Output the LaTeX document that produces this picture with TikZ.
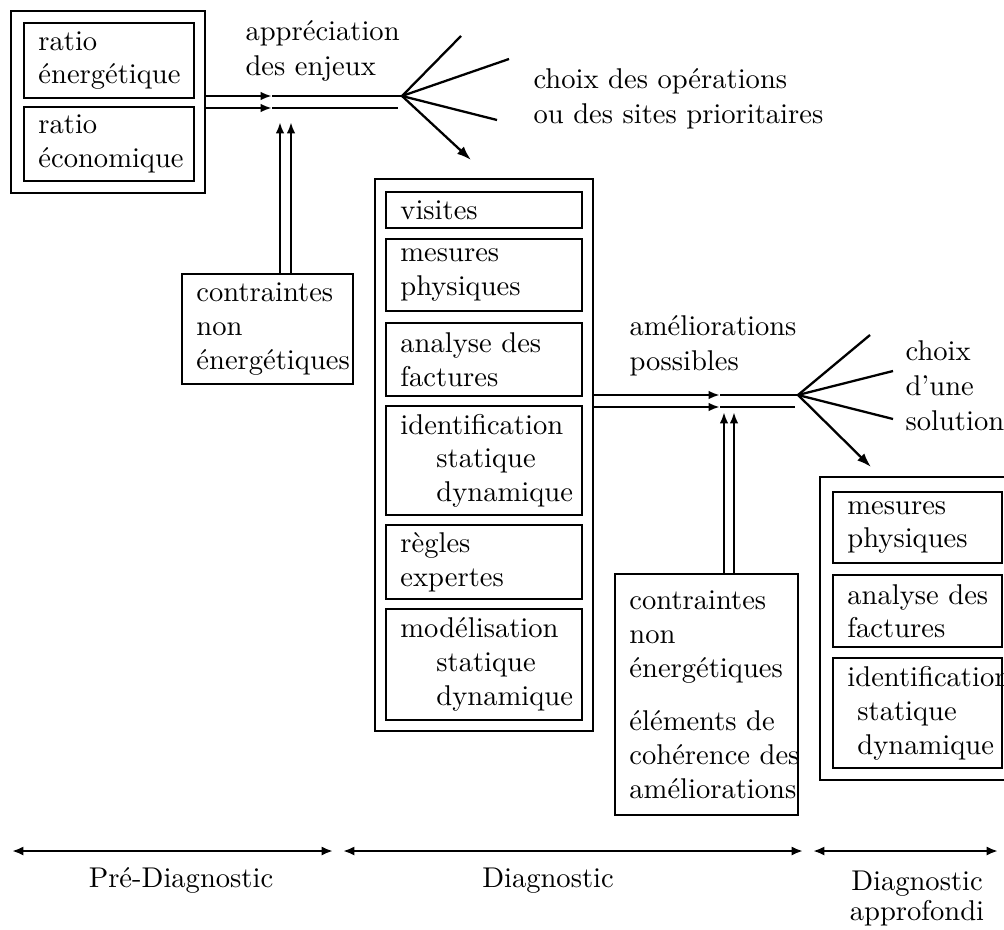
\documentclass[tikz,border=0pt]{standalone}
\usetikzlibrary{arrows.meta}
\hyphenpenalty=10000
\exhyphenpenalty=10000
\tikzset{
  outerbox/.style={draw, line width=0.8pt, anchor=north west, inner sep=0pt},
  innerbox/.style={draw, line width=0.8pt, anchor=north west, inner xsep=5pt, inner ysep=2pt,
    align=left, font=\fontsize{10}{11.8}\selectfont},
  lbl/.style={anchor=north west, inner sep=0pt, align=left, font=\fontsize{10}{12.2}\selectfont},
  flow/.style={line width=0.8pt},
  tip/.style={-{Latex[length=4pt,width=3pt]}},
  bigtip/.style={-{Latex[length=5pt,width=3.5pt]}},
  span/.style={line width=1pt, {Latex[length=4pt,width=3.2pt]}-{Latex[length=4pt,width=3.2pt]}}
}
\begin{document}
\begin{tikzpicture}[x=0.35pt, y=-0.35pt]
        \useasboundingbox (0,0) rectangle (1004,929);
        % pre-diagnostic
        \node[outerbox, minimum width=67.9pt, minimum height=63.7pt] (prediag) at (10,10) {};
        \node[innerbox, minimum width=59.5pt, text width=49.5pt, minimum height=26.25pt] (ratioA) at (23,22) {ratio\\énergétique};
        \node[innerbox, minimum width=59.5pt, text width=49.5pt, minimum height=25.9pt] (ratioB) at (23,106) {ratio\\économique};
        \node[innerbox, minimum width=59.9pt, text width=49.9pt, minimum height=38.5pt] (contrA) at (181,273) {contraintes\\non\\énergétiques};
        \node[lbl] (apprec) at (245,20) {appréciation\\des enjeux};
        \node[lbl] (choixA) at (533,68) {choix des opérations\\ou des sites prioritaires};
        \coordinate (fanA) at (402,96);
        \coordinate (endA) at (398,108);
        \coordinate (a1) at (272,96);
        \coordinate (a2) at (272,108);
        \draw[flow,tip] (prediag.east |- a1) -- (a1);
        \draw[flow] (a1) -- (fanA);
        \draw[flow,tip] (prediag.east |- a2) -- (a2);
        \draw[flow] (a2) -- (endA);
        \coordinate (v1) at (280,122);
        \coordinate (v2) at (291,122);
        \draw[flow,tip] (contrA.north -| v1) -- (v1);
        \draw[flow,tip] (contrA.north -| v2) -- (v2);
        \coordinate (f1) at (461,36);
        \coordinate (f2) at (509,59);
        \coordinate (f3) at (497,120);
        \coordinate (f4) at (471,160);
        \draw[flow] (fanA) -- (f1);
        \draw[flow] (fanA) -- (f2);
        \draw[flow] (fanA) -- (f3);
        \draw[flow,bigtip] (fanA) -- (f4);
        % diagnostic
        \node[outerbox, minimum width=76.3pt, minimum height=193.2pt] (diag) at (374,178) {};
        \node[innerbox, minimum width=68.6pt, text width=58.6pt, minimum height=12.6pt] (visites) at (385,191) {visites};
        \node[innerbox, minimum width=68.6pt, text width=58.6pt, minimum height=25.2pt] (mesuresA) at (385,238) {mesures\\physiques};
        \node[innerbox, minimum width=68.6pt, text width=58.6pt, minimum height=25.55pt] (analyseA) at (385,322) {analyse~des\\factures};
        \node[innerbox, minimum width=68.6pt, text width=58.6pt, minimum height=38.15pt] (identA) at (385,405) {identification\\\hspace*{12.6pt}statique\\\hspace*{12.6pt}dynamique};
        \node[innerbox, minimum width=68.6pt, text width=58.6pt, minimum height=25.9pt] (regles) at (385,524) {règles\\expertes};
        \node[innerbox, minimum width=68.6pt, text width=58.6pt, minimum height=38.85pt] (modelis) at (385,608) {modélisation\\\hspace*{12.6pt}statique\\\hspace*{12.6pt}dynamique};
        \node[innerbox, minimum width=64pt, text width=54pt, minimum height=84.35pt] (contrB) at (614,573) {contraintes\\non\\énergétiques\\[7pt]éléments~de\\cohérence~des\\améliorations};
        \node[lbl] (amelior) at (629,315) {améliorations\\possibles};
        \node[lbl] (choixB) at (905,340) {choix\\d'une\\solution};
        \coordinate (fanB) at (798,395);
        \coordinate (endB) at (795,407);
        \coordinate (b1) at (720,395);
        \coordinate (b2) at (720,407);
        \draw[flow,tip] (diag.east |- b1) -- (b1);
        \draw[flow] (b1) -- (fanB);
        \draw[flow,tip] (diag.east |- b2) -- (b2);
        \draw[flow] (b2) -- (endB);
        \coordinate (w1) at (724,412);
        \coordinate (w2) at (734,412);
        \draw[flow,tip] (contrB.north -| w1) -- (w1);
        \draw[flow,tip] (contrB.north -| w2) -- (w2);
        \coordinate (g1) at (870,335);
        \coordinate (g2) at (893,371);
        \coordinate (g3) at (893,419);
        \coordinate (g4) at (871,467);
        \draw[flow] (fanB) -- (g1);
        \draw[flow] (fanB) -- (g2);
        \draw[flow] (fanB) -- (g3);
        \draw[flow,bigtip] (fanB) -- (g4);
        % diagnostic approfondi
        \node[outerbox, minimum width=67.9pt, minimum height=106pt] (appro) at (819,476) {};
        \node[innerbox, minimum width=59.15pt, text width=49.15pt, minimum height=24.85pt] (mesuresB) at (832,491) {mesures\\physiques};
        \node[innerbox, minimum width=59.15pt, text width=49.15pt, minimum height=25.2pt] (analyseB) at (832,574) {analyse~des\\factures};
        \node[innerbox, minimum width=59.15pt, text width=49.15pt, minimum height=38.5pt] (identB) at (832,657) {identification\\\hspace*{3.5pt}statique\\\hspace*{3.5pt}dynamique};
        % time line
        \coordinate (t0) at (12,851);
        \coordinate (t1) at (333,851);
        \coordinate (t2) at (343,851);
        \coordinate (t3) at (803,851);
        \coordinate (t4) at (813,851);
        \coordinate (t5) at (998,851);
        \draw[span] (t0) -- (t1);
        \draw[span] (t2) -- (t3);
        \draw[span] (t4) -- (t5);
        \node[anchor=base] (prediagl) at (181,887) {Pré-Diagnostic};
        \node[anchor=base] (diagl) at (548,887) {Diagnostic};
        \node[anchor=north, align=center, font=\fontsize{10}{10.5}\selectfont] (approl) at (917,861) {Diagnostic\\approfondi};
\end{tikzpicture}
\end{document}
